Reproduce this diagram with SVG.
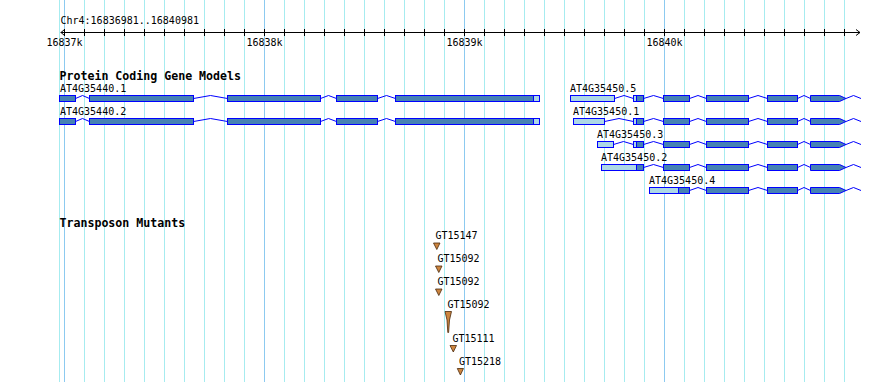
<svg xmlns="http://www.w3.org/2000/svg" width="890" height="382" viewBox="0 0 890 382">
<style>
.bg{fill:#fff}
.minor{stroke:#a6ecf0;stroke-width:1}
.major{stroke:#8ccaf0;stroke-width:1}
.rul{stroke:#000;stroke-width:1;fill:none}
.t{font-family:"DejaVu Sans Mono","Liberation Mono",monospace;font-size:10px;fill:#000}
.tb{font-family:"DejaVu Sans Mono","Liberation Mono",monospace;font-size:11.6px;font-weight:bold;fill:#000}
.cds{fill:#4682b4;stroke:#0000ff;stroke-width:1}
.utr{fill:#add8e6;stroke:#0000ff;stroke-width:1}
.intron{fill:none;stroke:#0000ff;stroke-width:1}
.tri{fill:#cd853f;stroke:#4a2a0c;stroke-width:0.8}
</style>
<defs>
<g id="tail">
<polyline class="intron" points="643.5,3.5 653.5,0.5 663.5,3.5"/>
<rect class="cds" x="663.5" y="0.5" width="26" height="6"/>
<polyline class="intron" points="689.5,3.5 698,0.5 706.5,3.5"/>
<rect class="cds" x="706.5" y="0.5" width="42" height="6"/>
<polyline class="intron" points="748.5,3.5 758,0.5 767.5,3.5"/>
<rect class="cds" x="767.5" y="0.5" width="30" height="6"/>
<polyline class="intron" points="797.5,3.5 804,0.5 810.5,3.5"/>
<polygon class="cds" points="810.5,0.5 839.5,0.5 846,3.5 839.5,6.5 810.5,6.5"/>
<polyline class="intron" points="846,3.5 853.5,0.5 861,3.5"/>
</g>
<g id="g440">
<rect class="cds" x="59.5" y="0.5" width="16" height="6"/>
<polyline class="intron" points="75.5,3.5 82.5,0.5 89.5,3.5"/>
<rect class="cds" x="89.5" y="0.5" width="104" height="6"/>
<polyline class="intron" points="193.5,3.5 210.5,0.5 227.5,3.5"/>
<rect class="cds" x="227.5" y="0.5" width="93" height="6"/>
<polyline class="intron" points="320.5,3.5 328.5,0.5 336.5,3.5"/>
<rect class="cds" x="336.5" y="0.5" width="41" height="6"/>
<polyline class="intron" points="377.5,3.5 386.5,0.5 395.5,3.5"/>
<rect class="cds" x="395.5" y="0.5" width="138" height="6"/>
<rect class="utr" x="533.5" y="0.5" width="6" height="6"/>
</g>
</defs>
<rect class="bg" x="0" y="0" width="890" height="382"/>
<g id="grid">
<line class="minor" x1="59.5" y1="0" x2="59.5" y2="382"/>
<line class="minor" x1="84.5" y1="0" x2="84.5" y2="382"/>
<line class="minor" x1="104.5" y1="0" x2="104.5" y2="382"/>
<line class="minor" x1="124.5" y1="0" x2="124.5" y2="382"/>
<line class="minor" x1="144.5" y1="0" x2="144.5" y2="382"/>
<line class="minor" x1="164.5" y1="0" x2="164.5" y2="382"/>
<line class="minor" x1="184.5" y1="0" x2="184.5" y2="382"/>
<line class="minor" x1="204.5" y1="0" x2="204.5" y2="382"/>
<line class="minor" x1="224.5" y1="0" x2="224.5" y2="382"/>
<line class="minor" x1="244.5" y1="0" x2="244.5" y2="382"/>
<line class="minor" x1="284.5" y1="0" x2="284.5" y2="382"/>
<line class="minor" x1="304.5" y1="0" x2="304.5" y2="382"/>
<line class="minor" x1="324.5" y1="0" x2="324.5" y2="382"/>
<line class="minor" x1="344.5" y1="0" x2="344.5" y2="382"/>
<line class="minor" x1="364.5" y1="0" x2="364.5" y2="382"/>
<line class="minor" x1="384.5" y1="0" x2="384.5" y2="382"/>
<line class="minor" x1="404.5" y1="0" x2="404.5" y2="382"/>
<line class="minor" x1="424.5" y1="0" x2="424.5" y2="382"/>
<line class="minor" x1="444.5" y1="0" x2="444.5" y2="382"/>
<line class="minor" x1="484.5" y1="0" x2="484.5" y2="382"/>
<line class="minor" x1="504.5" y1="0" x2="504.5" y2="382"/>
<line class="minor" x1="524.5" y1="0" x2="524.5" y2="382"/>
<line class="minor" x1="544.5" y1="0" x2="544.5" y2="382"/>
<line class="minor" x1="564.5" y1="0" x2="564.5" y2="382"/>
<line class="minor" x1="584.5" y1="0" x2="584.5" y2="382"/>
<line class="minor" x1="604.5" y1="0" x2="604.5" y2="382"/>
<line class="minor" x1="624.5" y1="0" x2="624.5" y2="382"/>
<line class="minor" x1="644.5" y1="0" x2="644.5" y2="382"/>
<line class="minor" x1="684.5" y1="0" x2="684.5" y2="382"/>
<line class="minor" x1="704.5" y1="0" x2="704.5" y2="382"/>
<line class="minor" x1="724.5" y1="0" x2="724.5" y2="382"/>
<line class="minor" x1="744.5" y1="0" x2="744.5" y2="382"/>
<line class="minor" x1="764.5" y1="0" x2="764.5" y2="382"/>
<line class="minor" x1="784.5" y1="0" x2="784.5" y2="382"/>
<line class="minor" x1="804.5" y1="0" x2="804.5" y2="382"/>
<line class="minor" x1="824.5" y1="0" x2="824.5" y2="382"/>
<line class="minor" x1="844.5" y1="0" x2="844.5" y2="382"/>
<line class="major" x1="64.5" y1="0" x2="64.5" y2="382"/>
<line class="major" x1="264.5" y1="0" x2="264.5" y2="382"/>
<line class="major" x1="464.5" y1="0" x2="464.5" y2="382"/>
<line class="major" x1="664.5" y1="0" x2="664.5" y2="382"/>
</g>
<g id="ruler">
<text class="t" x="60.5" y="24">Chr4:16836981..16840981</text>
<line class="rul" x1="60.5" y1="32.5" x2="860" y2="32.5"/>
<polyline class="rul" points="64.5,29.5 61,32.5 64.5,35.5"/>
<polyline class="rul" points="856,29.5 860,32.5 856,35.5"/>
<path class="rul" d="M64.5,29V36M84.5,29V36M104.5,29V36M124.5,29V36M144.5,29V36M164.5,29V36M184.5,29V36M204.5,29V36M224.5,29V36M244.5,29V36M264.5,29V36M284.5,29V36M304.5,29V36M324.5,29V36M344.5,29V36M364.5,29V36M384.5,29V36M404.5,29V36M424.5,29V36M444.5,29V36M464.5,29V36M484.5,29V36M504.5,29V36M524.5,29V36M544.5,29V36M564.5,29V36M584.5,29V36M604.5,29V36M624.5,29V36M644.5,29V36M664.5,29V36M684.5,29V36M704.5,29V36M724.5,29V36M744.5,29V36M764.5,29V36M784.5,29V36M804.5,29V36M824.5,29V36M844.5,29V36"/>
<text class="t" x="64.5" y="45.5" text-anchor="middle">16837k</text>
<text class="t" x="264.5" y="45.5" text-anchor="middle">16838k</text>
<text class="t" x="464.5" y="45.5" text-anchor="middle">16839k</text>
<text class="t" x="664.5" y="45.5" text-anchor="middle">16840k</text>
</g>
<text class="tb" x="59.5" y="80">Protein Coding Gene Models</text>
<g id="AT4G35440.1">
<text class="t" x="60" y="92">AT4G35440.1</text>
<use href="#g440" x="0" y="95"/>
</g>
<g id="AT4G35440.2">
<text class="t" x="60" y="115">AT4G35440.2</text>
<use href="#g440" x="0" y="118"/>
</g>
<g id="AT4G35450.5">
<text class="t" x="570" y="92">AT4G35450.5</text>
<g transform="translate(0,95)">
<rect class="utr" x="570.5" y="0.5" width="44" height="6"/>
<polyline class="intron" points="614.5,3.5 624,0.5 633.5,3.5"/>
<rect class="utr" x="633.5" y="0.5" width="3" height="6"/>
<rect class="cds" x="636.5" y="0.5" width="7" height="6"/>
<use href="#tail"/>
</g>
</g>
<g id="AT4G35450.1">
<text class="t" x="573" y="115">AT4G35450.1</text>
<g transform="translate(0,118)">
<rect class="utr" x="573.5" y="0.5" width="31" height="6"/>
<polyline class="intron" points="604.5,3.5 619,0.5 633.5,3.5"/>
<rect class="utr" x="633.5" y="0.5" width="3" height="6"/>
<rect class="cds" x="636.5" y="0.5" width="7" height="6"/>
<use href="#tail"/>
</g>
</g>
<g id="AT4G35450.3">
<text class="t" x="597" y="138">AT4G35450.3</text>
<g transform="translate(0,141)">
<rect class="utr" x="597.5" y="0.5" width="16" height="6"/>
<polyline class="intron" points="613.5,3.5 623.5,0.5 633.5,3.5"/>
<rect class="utr" x="633.5" y="0.5" width="3" height="6"/>
<rect class="cds" x="636.5" y="0.5" width="7" height="6"/>
<use href="#tail"/>
</g>
</g>
<g id="AT4G35450.2">
<text class="t" x="601" y="161">AT4G35450.2</text>
<g transform="translate(0,164)">
<rect class="utr" x="601.5" y="0.5" width="35" height="6"/>
<rect class="cds" x="636.5" y="0.5" width="7" height="6"/>
<use href="#tail"/>
</g>
</g>
<g id="AT4G35450.4">
<text class="t" x="649" y="184">AT4G35450.4</text>
<g transform="translate(0,187)">
<rect class="utr" x="649.5" y="0.5" width="29" height="6"/>
<rect class="cds" x="678.5" y="0.5" width="11" height="6"/>
<polyline class="intron" points="689.5,3.5 698,0.5 706.5,3.5"/>
<rect class="cds" x="706.5" y="0.5" width="42" height="6"/>
<polyline class="intron" points="748.5,3.5 758,0.5 767.5,3.5"/>
<rect class="cds" x="767.5" y="0.5" width="30" height="6"/>
<polyline class="intron" points="797.5,3.5 804,0.5 810.5,3.5"/>
<polygon class="cds" points="810.5,0.5 839.5,0.5 846,3.5 839.5,6.5 810.5,6.5"/>
<polyline class="intron" points="846,3.5 853.5,0.5 861,3.5"/>
</g>
</g>
<text class="tb" x="59.5" y="227">Transposon Mutants</text>
<g id="GT15147">
<text class="t" x="435.5" y="238.5">GT15147</text>
<polygon class="tri" points="433.5,243 440,243 436.8,249.5"/>
</g>
<g id="GT15092-1">
<text class="t" x="437.5" y="261.5">GT15092</text>
<polygon class="tri" points="435.5,266 442,266 438.8,272.5"/>
</g>
<g id="GT15092-2">
<text class="t" x="437.5" y="284.5">GT15092</text>
<polygon class="tri" points="435.5,289 442,289 438.8,295.5"/>
</g>
<g id="GT15092-3">
<text class="t" x="447.5" y="307.5">GT15092</text>
<polygon class="tri" points="445,311.5 451.5,311.5 449.5,320 448.6,332.5 447.8,332.5 447,320"/>
</g>
<g id="GT15111">
<text class="t" x="452.5" y="341.5">GT15111</text>
<polygon class="tri" points="450,345.5 456.5,345.5 453.3,352"/>
</g>
<g id="GT15218">
<text class="t" x="459" y="364.5">GT15218</text>
<polygon class="tri" points="457.3,368.5 463.5,368.5 460.4,375"/>
</g>
<g id="connectors"/>
</svg>
